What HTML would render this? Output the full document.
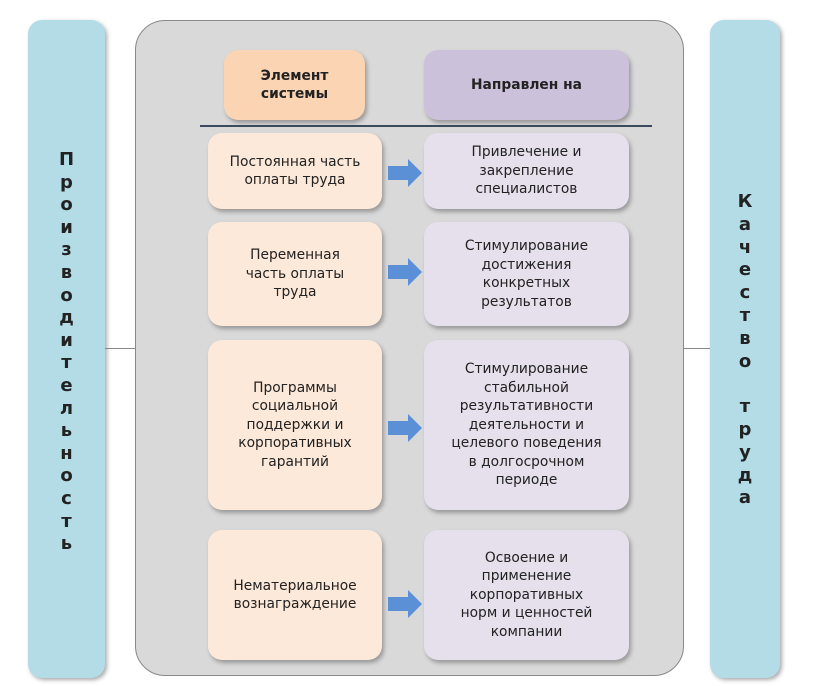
<!DOCTYPE html>
<html><head><meta charset="utf-8"><style>
body{margin:0;width:818px;height:686px;background:#fff;position:relative;overflow:hidden;font-family:"DejaVu Sans","Liberation Sans",sans-serif;color:#222}
.a{position:absolute;box-sizing:border-box}
.bar{background:#b3dce6;border-radius:14px;box-shadow:2px 2px 4px #aaa}
.box{border-radius:14px;display:flex;align-items:center;justify-content:center;text-align:center;font-size:13.8px;line-height:18.5px;box-shadow:2px 3px 4px #999}
.l{background:#fde9d9}
.r{background:#e5e0ec}
.vt{position:absolute;font-weight:bold;font-size:18px;text-align:center;width:100%}
.arr{position:absolute;width:34px;height:28px}
</style></head><body>
<div class="a bar" style="left:28px;top:20px;width:77px;height:658px"><div class="vt" style="top:129px;line-height:22.6px">П<br>р<br>о<br>и<br>з<br>в<br>о<br>д<br>и<br>т<br>е<br>л<br>ь<br>н<br>о<br>с<br>т<br>ь</div></div>
<div class="a bar" style="left:710px;top:20px;width:70px;height:658px"><div class="vt" style="top:171px;line-height:22.8px">К<br>а<br>ч<br>е<br>с<br>т<br>в<br>о<br><br>т<br>р<br>у<br>д<br>а</div></div>
<div class="a" style="left:105px;top:348px;width:30px;height:1px;background:#888"></div>
<div class="a" style="left:684px;top:348px;width:26px;height:1px;background:#888"></div>
<div class="a" style="left:135px;top:20px;width:549px;height:656px;background:#d9d9d9;border:1px solid #888;border-radius:30px"></div>
<div class="a box" style="left:224px;top:50px;width:141px;height:70px;background:#fbd4b4;font-weight:bold">Элемент<br>системы</div>
<div class="a box" style="left:424px;top:50px;width:205px;height:70px;background:#ccc1da;font-weight:bold">Направлен на</div>
<div class="a" style="left:200px;top:125px;width:452px;height:2px;background:#3b4a5c"></div>

<div class="a box l" style="left:208px;top:133px;width:174px;height:76px">Постоянная часть<br>оплаты труда</div>
<div class="a box r" style="left:424px;top:133px;width:205px;height:76px">Привлечение и<br>закрепление<br>специалистов</div>
<div class="a box l" style="left:208px;top:222px;width:174px;height:104px">Переменная<br>часть оплаты<br>труда</div>
<div class="a box r" style="left:424px;top:222px;width:205px;height:104px">Стимулирование<br>достижения<br>конкретных<br>результатов</div>
<div class="a box l" style="left:208px;top:340px;width:174px;height:170px">Программы<br>социальной<br>поддержки и<br>корпоративных<br>гарантий</div>
<div class="a box r" style="left:424px;top:340px;width:205px;height:170px">Стимулирование<br>стабильной<br>результативности<br>деятельности и<br>целевого поведения<br>в долгосрочном<br>периоде</div>
<div class="a box l" style="left:208px;top:530px;width:174px;height:130px">Нематериальное<br>вознаграждение</div>
<div class="a box r" style="left:424px;top:530px;width:205px;height:130px">Освоение и<br>применение<br>корпоративных<br>норм и ценностей<br>компании</div>

<svg class="arr" style="left:388px;top:159px" viewBox="0 0 34 28"><polygon points="0,7 20,7 20,0 34,14 20,28 20,21 0,21" fill="#5b8fd6"/></svg>
<svg class="arr" style="left:388px;top:258px" viewBox="0 0 34 28"><polygon points="0,7 20,7 20,0 34,14 20,28 20,21 0,21" fill="#5b8fd6"/></svg>
<svg class="arr" style="left:388px;top:414px" viewBox="0 0 34 28"><polygon points="0,7 20,7 20,0 34,14 20,28 20,21 0,21" fill="#5b8fd6"/></svg>
<svg class="arr" style="left:388px;top:590px" viewBox="0 0 34 28"><polygon points="0,7 20,7 20,0 34,14 20,28 20,21 0,21" fill="#5b8fd6"/></svg>
</body></html>
